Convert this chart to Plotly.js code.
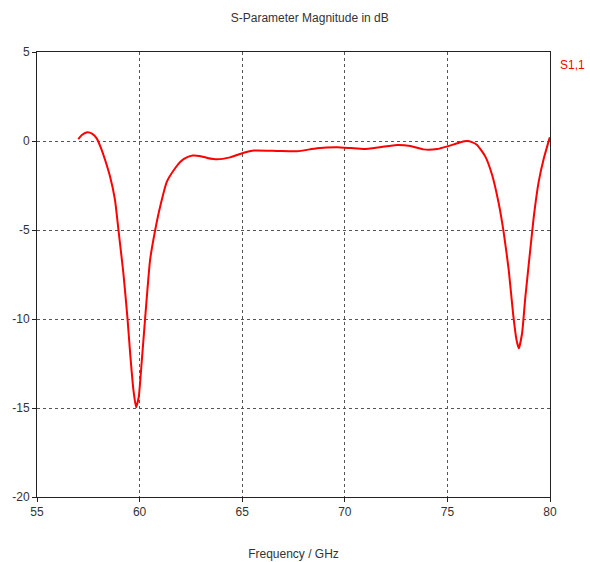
<!DOCTYPE html>
<html>
<head>
<meta charset="utf-8">
<script src="https://cdn.plot.ly/plotly-3.0.1.min.js"></script>
<style>html,body{margin:0;padding:0;background:#fff;}#chart{width:590px;height:562px;}</style>
</head>
<body>
<div id="chart"></div>
<script>
const freqGHz = [57.01, 57.2, 57.45, 57.7, 57.91, 58.12, 58.32, 58.56, 58.80, 58.97, 59.21, 59.41, 59.54, 59.70, 59.83, 59.96, 60.11, 60.27, 60.51, 60.76, 61.0, 61.33, 61.73, 62.0, 62.30, 62.6, 62.9, 63.3, 63.77, 64.41, 65.07, 65.56, 66.69, 67.67, 68.64, 69.62, 70.3, 70.92, 71.7, 72.55, 73.2, 73.84, 74.50, 75.0, 75.31, 75.6, 75.96, 76.2, 76.45, 76.85, 77.18, 77.50, 77.75, 77.99, 78.20, 78.37, 78.48, 78.64, 78.80, 79.02, 79.21, 79.45, 79.70, 79.99];
const s11dB = [0.10, 0.35, 0.49, 0.40, 0.15, -0.40, -1.07, -2.0, -3.31, -5.0, -7.43, -9.96, -11.93, -13.99, -14.96, -14.36, -12.3, -9.96, -6.69, -5.0, -3.69, -2.28, -1.53, -1.15, -0.92, -0.82, -0.84, -0.95, -1.03, -0.92, -0.66, -0.54, -0.56, -0.58, -0.41, -0.35, -0.40, -0.45, -0.35, -0.22, -0.28, -0.47, -0.45, -0.30, -0.19, -0.08, 0.0, -0.06, -0.22, -0.88, -1.91, -3.5, -5.19, -7.25, -9.68, -11.18, -11.65, -10.8, -8.75, -6.31, -4.25, -2.28, -0.97, 0.21];
const xTicks = [55, 60, 65, 70, 75, 80];
const yTicks = [5, 0, -5, -10, -15, -20];
const seriesName = "S1,1";

const font = {family: "Liberation Sans, Arial, sans-serif", size: 12, color: "#333"};

Plotly.newPlot("chart", [{
  x: freqGHz, y: s11dB, type: "scatter", mode: "lines", name: seriesName,
  line: {color: "#ff0000", width: 2, shape: "spline", smoothing: 0.5}
}], {
  width: 590, height: 562,
  margin: {l: 37, r: 40, t: 52, b: 65},
  paper_bgcolor: "#fff", plot_bgcolor: "#fff",
  font: font,
  showlegend: false,
  title: {text: "S-Parameter Magnitude in dB", x: 0.525, xanchor: "center", y: 0.975, yanchor: "top", font: {family: font.family, size: 12, color: "#333"}},
  xaxis: {
    range: [55, 80], tickvals: xTicks, ticktext: xTicks.map(String),
    showgrid: true, gridcolor: "#555", griddash: "dot", gridwidth: 1,
    zeroline: false, showline: true, linecolor: "#222", linewidth: 1, mirror: true,
    ticks: "outside", ticklen: 4, tickcolor: "#222",
    title: {text: "Frequency / GHz", font: {family: font.family, size: 12, color: "#333"}, standoff: 31}
  },
  yaxis: {
    range: [-20, 5], tickvals: yTicks, ticktext: yTicks.map(String),
    showgrid: true, gridcolor: "#555", griddash: "dot", gridwidth: 1,
    zeroline: false, showline: true, linecolor: "#222", linewidth: 1, mirror: true,
    ticks: "outside", ticklen: 4, tickcolor: "#222"
  },
  annotations: [{
    text: seriesName, xref: "paper", yref: "paper", x: 1.015, y: 0.97,
    xanchor: "left", yanchor: "middle", showarrow: false,
    font: {family: font.family, size: 12, color: "#ff0000"}
  }]
}, {staticPlot: true});
</script>
</body>
</html>
